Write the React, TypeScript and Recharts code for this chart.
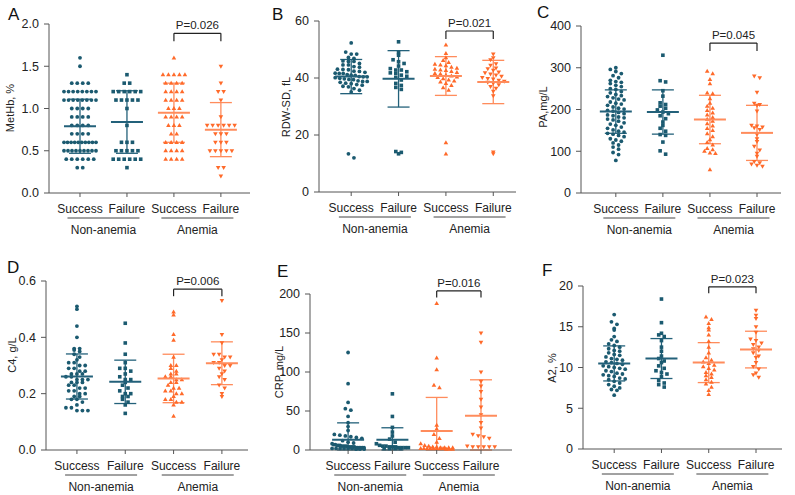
import { ScatterChart, Scatter, XAxis, YAxis, ErrorBar, ReferenceLine } from "recharts"

const FONT = "'Liberation Sans', Arial, Helvetica, sans-serif"
const TEAL = "#1b5a70"
const ORANGE = "#ff6a2a"
const TEAL_BAR = "#23617a"
const ORANGE_BAR = "#ff8c5c"
const INK = "#222"
const AXIS = "#555"

const outcomes = ["Success", "Failure", "Success", "Failure"]
const cohorts = ["Non-anemia", "Anemia"]
const markers = ["circle", "square", "triangle", "triangleDown"]

// A - MetHb, %
const methbNonSuccess = [1.6, 1.5, 1.3, 1.3, 1.3, 1.3, 1.2, 1.2, 1.2, 1.2, 1.2, 1.2, 1.2, 1.2, 1.1, 1.1, 1.1, 1.1, 1.1, 1.1, 1.1, 1.1, 1.0, 1.0, 1.0, 1.0, 0.9, 0.9, 0.9, 0.9, 0.8, 0.8, 0.8, 0.8, 0.7, 0.7, 0.7, 0.7, 0.6, 0.6, 0.6, 0.6, 0.6, 0.6, 0.6, 0.6, 0.6, 0.6, 0.5, 0.5, 0.5, 0.5, 0.5, 0.5, 0.5, 0.5, 0.5, 0.4, 0.4, 0.4, 0.4, 0.4, 0.4, 0.3, 0.3]
const methbNonFailure = [1.4, 1.3, 1.3, 1.2, 1.2, 1.2, 1.2, 1.2, 1.2, 1.1, 1.1, 1.1, 1.1, 1.1, 1.0, 0.8, 0.6, 0.6, 0.6, 0.5, 0.5, 0.5, 0.5, 0.5, 0.4, 0.4, 0.4, 0.4, 0.4, 0.4, 0.3]
const methbAnSuccess = [1.6, 1.4, 1.4, 1.4, 1.4, 1.4, 1.3, 1.3, 1.3, 1.3, 1.2, 1.2, 1.2, 1.2, 1.1, 1.1, 1.1, 1.1, 1.0, 1.0, 1.0, 0.9, 0.9, 0.9, 0.9, 0.8, 0.8, 0.8, 0.7, 0.7, 0.6, 0.6, 0.6, 0.6, 0.5, 0.5, 0.5, 0.5, 0.4, 0.4, 0.4, 0.4]
const methbAnFailure = [1.5, 1.3, 1.2, 1.2, 1.1, 0.9, 0.8, 0.8, 0.8, 0.8, 0.8, 0.8, 0.7, 0.7, 0.7, 0.6, 0.6, 0.6, 0.5, 0.5, 0.5, 0.5, 0.5, 0.3, 0.3, 0.2]
const methbMeans = [0.79, 0.84, 0.95, 0.75]
const methbSd = [0.32, 0.37, 0.35, 0.32]

// B - RDW-SD, fL
const rdwNonSuccess = [52.3, 49.1, 48.4, 48.4, 47.2, 46.9, 46.0, 45.8, 45.8, 45.1, 44.6, 44.6, 44.0, 43.8, 43.1, 43.0, 42.9, 42.4, 42.3, 42.0, 41.7, 41.6, 41.6, 41.2, 41.0, 40.9, 40.5, 40.4, 40.4, 40.1, 39.9, 39.7, 39.5, 39.4, 39.0, 38.8, 38.8, 38.5, 38.2, 38.0, 37.7, 37.5, 37.1, 36.9, 36.3, 35.7, 35.1, 13.4, 12.0]
const rdwNonFailure = [52.7, 48.9, 48.0, 46.4, 45.7, 45.1, 44.2, 43.3, 42.8, 42.8, 42.2, 41.8, 41.6, 41.0, 40.6, 40.2, 39.3, 38.1, 37.4, 36.7, 36.0, 14.2, 13.9, 13.4]
const rdwAnSuccess = [51.6, 48.6, 47.1, 46.2, 45.5, 44.9, 44.6, 44.3, 43.8, 43.5, 43.1, 42.8, 42.7, 42.3, 42.0, 41.6, 41.4, 41.0, 40.7, 40.4, 40.2, 39.8, 39.3, 39.0, 38.6, 38.1, 37.4, 36.6, 35.7, 17.3, 13.4]
const rdwAnFailure = [48.4, 47.1, 46.4, 45.0, 44.4, 43.5, 43.2, 42.7, 42.1, 41.8, 41.4, 41.0, 40.6, 40.1, 39.8, 39.6, 39.2, 38.8, 38.5, 38.1, 37.6, 37.0, 36.4, 35.3, 33.7, 14.0, 13.4]
const rdwMeans = [40.5, 39.7, 40.7, 38.6]
const rdwSd = [6.0, 9.9, 6.8, 7.6]

// C - PA, mg/L
const paNonSuccess = [300, 296, 291, 286, 281, 276, 270, 267, 265, 262, 258, 255, 250, 248, 243, 240, 236, 233, 231, 228, 225, 223, 218, 215, 213, 210, 206, 203, 201, 198, 196, 193, 190, 187, 185, 182, 180, 177, 175, 172, 168, 165, 162, 158, 155, 151, 148, 146, 143, 141, 138, 135, 130, 127, 124, 120, 115, 110, 105, 97, 92, 78]
const paNonFailure = [330, 269, 266, 245, 232, 216, 212, 208, 203, 199, 194, 190, 185, 178, 170, 162, 155, 148, 140, 138, 122, 101, 93]
const paAnSuccess = [292, 286, 272, 262, 240, 238, 226, 215, 208, 203, 198, 192, 187, 181, 177, 172, 166, 161, 155, 150, 142, 135, 128, 121, 115, 107, 104, 100, 96, 95, 56]
const paAnFailure = [280, 276, 241, 215, 212, 210, 196, 162, 160, 158, 156, 152, 140, 130, 123, 112, 103, 95, 88, 75, 72, 69, 66, 64]
const paMeans = [195, 194, 176, 144]
const paSd = [52, 53, 58, 66]

// D - C4, g/L
const c4NonSuccess = [0.51, 0.5, 0.44, 0.4, 0.36, 0.36, 0.355, 0.35, 0.34, 0.33, 0.32, 0.31, 0.31, 0.3, 0.3, 0.29, 0.29, 0.28, 0.28, 0.27, 0.27, 0.27, 0.26, 0.26, 0.25, 0.25, 0.25, 0.24, 0.24, 0.24, 0.23, 0.23, 0.22, 0.22, 0.21, 0.21, 0.2, 0.2, 0.19, 0.19, 0.18, 0.18, 0.17, 0.16, 0.15, 0.15, 0.14, 0.14, 0.14]
const c4NonFailure = [0.45, 0.38, 0.34, 0.31, 0.29, 0.29, 0.28, 0.27, 0.26, 0.25, 0.25, 0.24, 0.23, 0.22, 0.21, 0.2, 0.2, 0.19, 0.19, 0.18, 0.17, 0.16, 0.13]
const c4AnSuccess = [0.49, 0.48, 0.41, 0.39, 0.33, 0.3, 0.3, 0.29, 0.28, 0.27, 0.27, 0.26, 0.26, 0.25, 0.25, 0.24, 0.24, 0.23, 0.22, 0.22, 0.21, 0.21, 0.2, 0.2, 0.19, 0.18, 0.18, 0.17, 0.17, 0.16, 0.12]
const c4AnFailure = [0.53, 0.41, 0.38, 0.34, 0.34, 0.33, 0.33, 0.32, 0.31, 0.31, 0.3, 0.3, 0.29, 0.28, 0.27, 0.26, 0.25, 0.23, 0.22, 0.2, 0.19]
const c4Means = [0.261, 0.242, 0.254, 0.308]
const c4Sd = [0.08, 0.077, 0.086, 0.076]

// E - CRP, mg/L
const crpNonSuccess = [125, 85, 61, 53, 51, 43, 35, 30, 25, 20, 19, 18, 17, 16, 15, 12, 10, 9, 8, 7, 7, 6, 6, 6, 5, 5, 5, 5, 4, 4, 4, 4, 4, 3, 3, 3, 3, 3, 3, 2, 2, 2, 2, 2, 2, 1, 1, 1]
const crpNonFailure = [72, 43, 29, 23, 18, 14, 10, 8, 6, 5, 5, 4, 4, 4, 3, 3, 3, 3, 2, 2, 2, 2]
const crpAnSuccess = [188, 118, 103, 83, 80, 32, 27, 20, 15, 10, 8, 6, 5, 4, 4, 3, 3, 3, 3, 2, 2, 2, 2, 2, 2, 2, 2, 1, 1, 1]
const crpAnFailure = [150, 138, 100, 88, 82, 75, 65, 55, 45, 35, 28, 20, 18, 17, 15, 5, 4, 4, 4, 4, 4]
const crpMeans = [13.3, 13.0, 24.4, 44]
const crpSd = [21.5, 15.5, 43, 46]

// F - A2, %
const a2NonSuccess = [16.5, 15.6, 15.3, 14.8, 14.6, 13.8, 13.4, 13.2, 12.9, 12.7, 12.5, 12.3, 12.1, 12.0, 11.8, 11.6, 11.5, 11.3, 11.1, 11.0, 10.9, 10.7, 10.6, 10.5, 10.4, 10.2, 10.1, 10.0, 9.9, 9.8, 9.6, 9.5, 9.3, 9.2, 9.1, 9.0, 8.9, 8.7, 8.6, 8.5, 8.3, 8.1, 7.9, 7.7, 7.5, 7.3, 7.2, 6.6]
const a2NonFailure = [18.4, 15.5, 14.2, 14.0, 13.8, 13.3, 12.5, 12.0, 11.4, 11.1, 10.8, 10.6, 10.2, 9.9, 9.6, 9.4, 9.2, 8.9, 8.4, 8.1, 7.9, 7.6]
const a2AnSuccess = [16.2, 15.9, 15.4, 14.9, 14.6, 14.0, 13.2, 12.5, 11.8, 11.2, 10.9, 10.7, 10.5, 10.3, 10.1, 9.9, 9.7, 9.4, 9.2, 9.0, 8.8, 8.5, 8.2, 8.0, 7.6, 7.2, 6.7]
const a2AnFailure = [17.0, 16.4, 16.0, 15.0, 14.3, 13.5, 13.3, 13.0, 12.8, 12.5, 12.3, 12.1, 11.8, 11.4, 11.2, 10.6, 10.1, 9.8, 9.3, 9.1, 8.8]
const a2Means = [10.5, 11.1, 10.6, 12.2]
const a2Sd = [2.15, 2.45, 2.45, 2.25]

const pLabels = ["P=0.026", "P=0.021", "P=0.045", "P=0.006", "P=0.016", "P=0.023"]

const panels = [
  { letter: "A", title: "MetHb, %", groups: [methbNonSuccess, methbNonFailure, methbAnSuccess, methbAnFailure], means: methbMeans, sds: methbSd,
    yMax: 2, yTicks: [0, 0.5, 1, 1.5, 2], digits: 1, col: 0, row: 0, plot: { l: 49, r: 250, t: 24, b: 193 }, xDomain: [0.34, 4.62],
    bracket: 1.89, drop: 0.095, letterPos: [8, 20], titlePos: [10, 108] },
  { letter: "B", title: "RDW-SD, fL", groups: [rdwNonSuccess, rdwNonFailure, rdwAnSuccess, rdwAnFailure], means: rdwMeans, sds: rdwSd,
    yMax: 60, yTicks: [0, 20, 40, 60], digits: 0, col: 1, row: 0, plot: { l: 54, r: 251, t: 21, b: 192 }, xDomain: [0.32, 4.48],
    bracket: 56.5, drop: 2.8, letterPos: [7, 20.5], titlePos: [21, 107] },
  { letter: "C", title: "PA,mg/L", groups: [paNonSuccess, paNonFailure, paAnSuccess, paAnFailure], means: paMeans, sds: paSd,
    yMax: 400, yTicks: [0, 100, 200, 300, 400], digits: 0, col: 2, row: 0, plot: { l: 51, r: 251, t: 26, b: 193 }, xDomain: [0.26, 4.51],
    bracket: 359, drop: 19, letterPos: [7, 18.5], titlePos: [13, 107] },
  { letter: "D", title: "C4, g/L", groups: [c4NonSuccess, c4NonFailure, c4AnSuccess, c4AnFailure], means: c4Means, sds: c4Sd,
    yMax: 0.6, yTicks: [0, 0.2, 0.4, 0.6], digits: 1, col: 0, row: 1, plot: { l: 46, r: 248, t: 36, b: 205 }, xDomain: [0.36, 4.54],
    bracket: 0.571, drop: 0.025, letterPos: [7, 28.5], titlePos: [12, 110] },
  { letter: "E", title: "CRP, mg/L", groups: [crpNonSuccess, crpNonFailure, crpAnSuccess, crpAnFailure], means: crpMeans, sds: crpSd,
    yMax: 200, yTicks: [0, 50, 100, 150, 200], digits: 0, col: 1, row: 1, plot: { l: 45, r: 247, t: 49, b: 205 }, xDomain: [0.14, 4.7],
    bracket: 204, drop: 8.6, letterPos: [12, 32.5], titlePos: [14, 127] },
  { letter: "F", title: "A2, %", groups: [a2NonSuccess, a2NonFailure, a2AnSuccess, a2AnFailure], means: a2Means, sds: a2Sd,
    yMax: 20, yTicks: [0, 5, 10, 15, 20], digits: 0, col: 2, row: 1, plot: { l: 53, r: 252, t: 41, b: 204 }, xDomain: [0.34, 4.55],
    bracket: 19.9, drop: 0.8, letterPos: [12, 31.5], titlePos: [22, 123] },
]

// Prism-style column scatter: bin values into rows, spread each row symmetrically
function swarm(values: number[], group: number, pxX: number, pxY: number) {
  const rowPx = 4.5
  const step = 5.5
  const half = 16
  const bins = new Map<number, number[]>()
  ;[...values].sort((a, b) => b - a).forEach((v) => {
    const k = Math.round((v * pxY) / rowPx)
    if (!bins.has(k)) bins.set(k, [])
    bins.get(k)!.push(v)
  })
  const out: { x: number; y: number }[] = []
  bins.forEach((vs) => {
    const n = vs.length
    const s = n > 1 ? Math.min(step, (2 * half) / (n - 1)) : 0
    vs.forEach((v, i) => out.push({ x: group + ((i - (n - 1) / 2) * s) / pxX, y: v }))
  })
  return out
}

const Marker = ({ cx, cy, kind, color }: any) => {
  if (cx == null || cy == null) return null
  if (kind === "circle") return <circle cx={cx} cy={cy} r={1.9} fill={color} />
  if (kind === "square") return <rect x={cx - 1.8} y={cy - 1.8} width={3.6} height={3.6} fill={color} />
  const h = kind === "triangle" ? -1 : 1
  return <path d={`M${cx},${cy + 2.4 * h}L${cx - 2.3},${cy - 1.6 * h}L${cx + 2.3},${cy - 1.6 * h}Z`} fill={color} />
}

const OutcomeTick = ({ x, y, payload }: any) => (
  <text x={x} y={y + 14} textAnchor="middle" fontSize={12} fill={INK} fontFamily={FONT}>
    {outcomes[Math.round(payload.value) - 1]}
  </text>
)

const CohortTick = ({ x, y, payload }: any) => (
  <g>
    <line x1={x - 36} x2={x + 36} y1={y + 3} y2={y + 3} stroke="#444" strokeWidth={1} />
    <text x={x} y={y + 19} textAnchor="middle" fontSize={12} fill={INK} fontFamily={FONT}>
      {cohorts[payload.value < 2.5 ? 0 : 1]}
    </text>
  </g>
)

function Panel({ cfg, index }: any) {
  const { plot, xDomain, yMax } = cfg
  const pxX = (plot.r - plot.l) / (xDomain[1] - xDomain[0])
  const pxY = (plot.b - plot.t) / yMax
  const [tx, ty] = cfg.titlePos

  return (
    <div style={{ position: "absolute", left: cfg.col * 265, top: cfg.row * 245, width: 265, height: 250 }}>
      <div
        style={{
          position: "absolute",
          left: cfg.letterPos[0],
          top: cfg.letterPos[1] - 14.4,
          fontSize: 17,
          lineHeight: "17px",
          fontFamily: FONT,
          color: "#111",
        }}
      >
        {cfg.letter}
      </div>
      <ScatterChart
        width={265}
        height={250}
        margin={{ top: plot.t, right: 265 - plot.r, bottom: 250 - plot.b - 45, left: 0 }}
      >
        <XAxis
          type="number"
          dataKey="x"
          domain={xDomain}
          ticks={[1, 2, 3, 4]}
          allowDataOverflow
          height={22}
          tickSize={4}
          tickMargin={2}
          axisLine={{ stroke: AXIS }}
          tickLine={{ stroke: AXIS }}
          tick={<OutcomeTick />}
        />
        <XAxis
          xAxisId="cohort"
          type="number"
          dataKey="x"
          domain={xDomain}
          ticks={[1.5, 3.5]}
          allowDataOverflow
          height={23}
          tickSize={0}
          tickMargin={0}
          axisLine={false}
          tickLine={false}
          tick={<CohortTick />}
        />
        <YAxis
          type="number"
          dataKey="y"
          domain={[0, yMax]}
          ticks={cfg.yTicks}
          width={plot.l}
          tickSize={5}
          tickMargin={5}
          axisLine={{ stroke: AXIS }}
          tickLine={{ stroke: AXIS }}
          tick={{ fontSize: 12.5, fill: INK, fontFamily: FONT }}
          tickFormatter={(v: number) => v.toFixed(cfg.digits)}
          label={{
            content: () => (
              <text
                x={tx}
                y={ty}
                transform={`rotate(-90 ${tx} ${ty})`}
                textAnchor="middle"
                dominantBaseline="central"
                fontSize={11}
                fill={INK}
                fontFamily={FONT}
              >
                {cfg.title}
              </text>
            ),
          }}
        />
        {cfg.groups.map((values: number[], g: number) => {
          const color = g < 2 ? TEAL : ORANGE
          return (
            <Scatter
              key={`pts-${index}-${g}`}
              data={swarm(values, g + 1, pxX, pxY)}
              isAnimationActive={false}
              shape={(p: any) => <Marker cx={p.cx} cy={p.cy} kind={markers[g]} color={color} />}
            />
          )
        })}
        {cfg.means.map((m: number, g: number) => {
          const color = g < 2 ? TEAL_BAR : ORANGE_BAR
          const sd = cfg.sds[g]
          return (
            <Scatter
              key={`stat-${index}-${g}`}
              data={[{ x: g + 1, y: m, err: [Math.min(sd, m), sd] }]}
              isAnimationActive={false}
              shape={(p: any) => (
                <line x1={p.cx - 16} x2={p.cx + 16} y1={p.cy} y2={p.cy} stroke={color} strokeWidth={2} />
              )}
            >
              <ErrorBar dataKey="err" direction="y" width={11} stroke={color} strokeWidth={1.3} isAnimationActive={false} />
            </Scatter>
          )
        })}
        <ReferenceLine
          segment={[{ x: 3, y: cfg.bracket }, { x: 4, y: cfg.bracket }]}
          stroke={INK}
          strokeWidth={1.2}
          ifOverflow="visible"
          label={{ value: pLabels[index], position: "top", offset: 4, fill: INK, fontSize: 11.5, fontFamily: FONT }}
        />
        <ReferenceLine
          segment={[{ x: 3, y: cfg.bracket }, { x: 3, y: cfg.bracket - cfg.drop }]}
          stroke={INK}
          strokeWidth={1.2}
          ifOverflow="visible"
        />
        <ReferenceLine
          segment={[{ x: 4, y: cfg.bracket }, { x: 4, y: cfg.bracket - cfg.drop }]}
          stroke={INK}
          strokeWidth={1.2}
          ifOverflow="visible"
        />
      </ScatterChart>
    </div>
  )
}

export default function App() {
  return (
    <div style={{ position: "absolute", left: 0, top: 0, width: 795, height: 495, background: "#fff", fontFamily: FONT }}>
      {panels.map((cfg, i) => (
        <Panel key={cfg.letter} cfg={cfg} index={i} />
      ))}
    </div>
  )
}
